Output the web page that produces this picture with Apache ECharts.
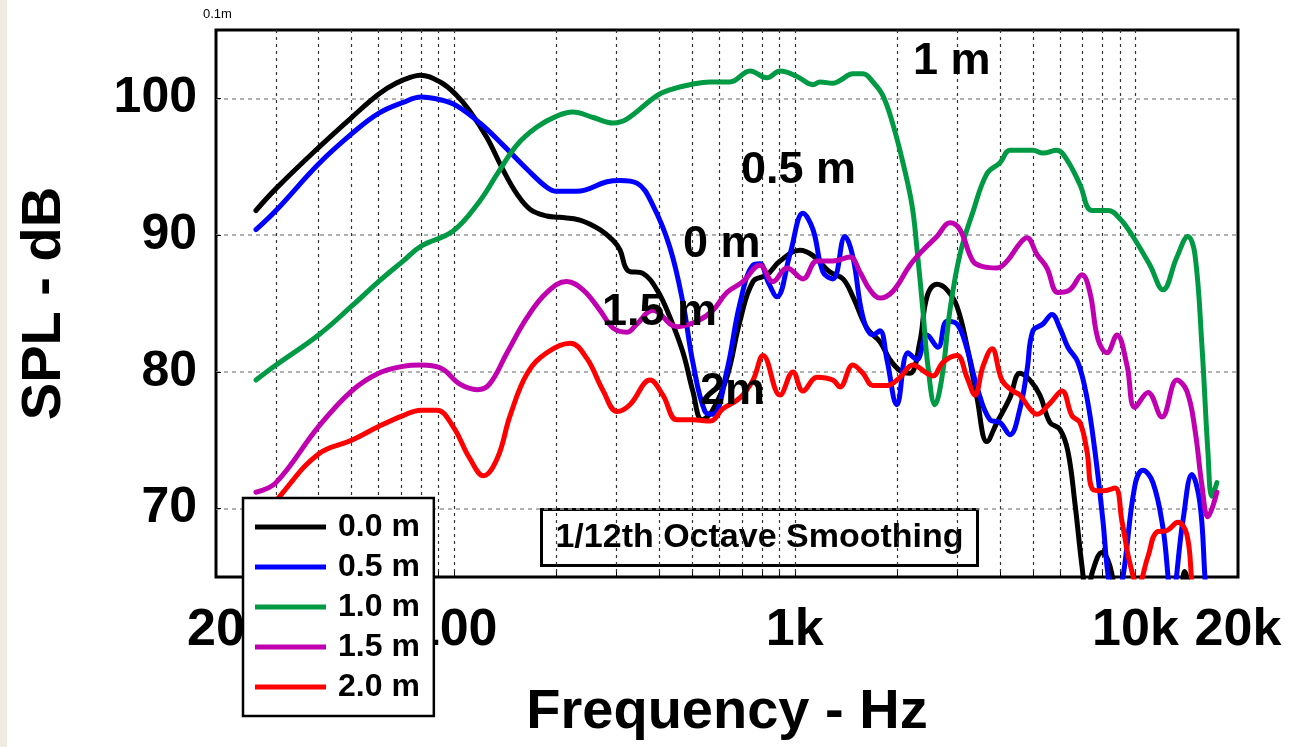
<!DOCTYPE html>
<html>
<head>
<meta charset="utf-8">
<title>SPL vs Frequency</title>
<script src="https://cdn.jsdelivr.net/npm/echarts@6/dist/echarts.min.js"></script>
<style>
  html, body { margin: 0; padding: 0; background: #fff; }
  #chart { width: 1292px; height: 747px; }
</style>
</head>
<body>
<div id="chart"></div>
<script>
  const FONT = '"Liberation Sans", Arial, sans-serif'

  // axis ticks / labels
  const xTickValues = [20, 100, 1000, 10000, 20000]
  const xTickLabels = ['20', '100', '1k', '10k', '20k']
  const gridFreqs = [30, 40, 50, 60, 70, 80, 90, 100, 200, 300, 400, 500, 600, 700, 800, 900,
    1000, 2000, 3000, 4000, 5000, 6000, 7000, 8000, 9000, 10000]
  const yTickValues = [70, 80, 90, 100]

  // series: distance from the baffle
  const seriesNames = ['0.0 m', '0.5 m', '1.0 m', '1.5 m', '2.0 m']
  const seriesColors = ['#000000', '#0000ff', '#009a44', '#c000b0', '#ff0000']

  // 0.0 m
  const freq00 = [26.2, 30, 40, 50, 60, 67.5, 75.7, 79.4, 91, 101, 111, 125, 139, 153, 167, 187, 204, 234, 268, 293,
    307, 324, 358, 394, 430, 470, 502, 534, 571, 632, 690, 754, 829, 905, 1035, 1131, 1268, 1385, 1481, 1628,
    1778, 1902, 2035, 2178, 2329, 2444, 2614, 2797, 2992, 3202, 3426, 3665, 3922, 4280, 4580, 4902, 5242, 5610, 6002, 6334,
    6642, 6966, 7200, 7502, 7972, 8416, 8824, 9500, 13000, 13970, 14700]
  const spl00 = [91.8, 93.4, 96.4, 98.6, 100.3, 101.1, 101.6, 101.7, 101.2, 100.3, 99.1, 97.1, 94.8, 93.0, 91.9, 91.4, 91.3, 91.1, 90.4, 89.6,
    88.9, 87.4, 87.2, 86.0, 84.0, 81.4, 78.6, 76.5, 77.1, 79.6, 83.7, 86.6, 87.1, 88.1, 88.9, 88.5, 87.3, 86.8, 85.5, 83.2,
    82.2, 80.9, 80.1, 79.9, 82.2, 85.5, 86.4, 86.0, 84.8, 81.9, 78.1, 74.9, 76.3, 78.1, 79.9, 79.4, 78.3, 76.3, 75.8, 74.2,
    70.4, 65.8, 63.5, 65.5, 66.8, 65.8, 63.0, 60.0, 62.0, 65.4, 62.0]

  // 0.5 m
  const freq05 = [26.2, 30, 40, 50, 60, 70.8, 80, 91, 101, 119, 139, 164, 187, 200, 229, 281, 307, 344, 383, 430,
    470, 502, 545, 575, 632, 690, 754, 790, 834, 886, 968, 1057, 1131, 1210, 1294, 1404, 1481, 1585, 1696, 1778,
    1864, 1994, 2149, 2282, 2444, 2632, 2797, 2992, 3202, 3426, 3740, 4002, 4280, 4580, 4804, 5000, 5350, 5686, 6002, 6334,
    6778, 7206, 7604, 8028, 8304, 8700, 9190, 9964, 10520, 11256, 12042, 12794, 13782, 14646, 15462, 15994, 16300]
  const spl05 = [90.4, 91.8, 95.2, 97.4, 98.9, 99.7, 100.1, 99.9, 99.5, 98.2, 96.6, 94.8, 93.5, 93.2, 93.2, 93.9, 94.0, 93.8, 92.2, 89.1,
    85.0, 80.7, 77.1, 76.9, 80.1, 85.0, 87.8, 87.9, 86.6, 85.5, 88.6, 91.6, 90.4, 87.3, 86.8, 89.9, 88.4, 84.0, 82.7, 83.0,
    80.9, 77.6, 81.4, 80.9, 82.7, 81.8, 83.7, 83.5, 81.7, 78.9, 76.5, 76.3, 75.4, 77.3, 80.1, 83.0, 83.5, 84.2, 83.2, 81.8,
    80.7, 78.1, 74.2, 69.1, 65.2, 62.5, 65.0, 71.7, 72.8, 71.9, 68.6, 63.5, 69.1, 72.5, 70.4, 65.0, 62.0]

  // 1.0 m
  const freq10 = [26.2, 30, 40, 50, 60, 70.8, 80, 99.3, 119, 134, 153, 175, 200, 223, 256, 293, 322, 394, 439, 492,
    564, 645, 739, 829, 905, 1015, 1131, 1185, 1294, 1357, 1481, 1585, 1696, 1814, 1941, 2077, 2208, 2282, 2377, 2460,
    2579, 2704, 2854, 3054, 3334, 3665, 4002, 4280, 4580, 5000, 5350, 5882, 6294, 6872, 7452, 8304, 9006, 9830, 11030, 12042,
    13234, 14256, 14946, 15674, 16316, 16764, 17342]
  const spl10 = [79.4, 80.5, 82.7, 84.8, 86.6, 88.1, 89.2, 90.3, 92.5, 94.5, 96.6, 97.9, 98.7, 99.0, 98.6, 98.2, 98.5, 100.2, 100.7, 101.0,
    101.2, 101.2, 102.0, 101.5, 102.0, 101.6, 101.0, 101.2, 101.1, 101.3, 101.8, 101.8, 101.2, 100.2, 98.1, 95.3, 92.2, 89.1, 84.5, 80.4,
    77.6, 79.6, 84.5, 88.6, 91.7, 94.5, 95.3, 96.2, 96.2, 96.2, 96.0, 96.2, 95.5, 93.7, 91.8, 91.8, 91.2, 89.9, 87.8, 86.0,
    88.4, 89.9, 88.6, 81.9, 74.2, 70.9, 71.9]

  // 1.5 m
  const freq15 = [26.2, 30, 40, 50, 60, 70.8, 80, 91, 104, 117, 127, 143, 164, 187, 214, 239, 268, 293, 322, 344,
    383, 451, 516, 575, 632, 704, 790, 863, 949, 1057, 1162, 1294, 1452, 1553, 1662, 1778, 1941, 2178, 2377, 2614,
    2854, 3054, 3334, 3568, 3922, 4195, 4580, 4804, 5136, 5496, 5922, 6422, 6966, 7352, 7760, 8248, 8824, 9440, 9964, 10882,
    11962, 13234, 14158, 14946, 15674, 16316, 17342]
  const spl15 = [71.2, 71.9, 76.0, 78.6, 79.9, 80.4, 80.5, 80.3, 79.1, 78.7, 79.1, 81.4, 84.0, 85.8, 86.6, 86.0, 84.5, 83.2, 82.9, 83.5,
    84.5, 83.3, 83.7, 84.5, 85.8, 86.6, 87.8, 86.6, 87.6, 86.8, 88.1, 88.1, 88.4, 87.3, 86.0, 85.4, 85.9, 87.8, 88.9, 89.9,
    90.9, 90.4, 88.1, 87.7, 87.6, 88.1, 89.4, 89.8, 88.6, 87.6, 85.8, 86.0, 87.1, 85.8, 82.4, 81.4, 82.7, 80.5, 77.4, 78.5,
    76.7, 79.4, 78.6, 75.8, 71.7, 69.4, 71.2]

  // 2.0 m
  const freq20 = [26.2, 31.5, 40, 50, 60, 70.8, 80, 89, 99.3, 111, 122, 134, 146, 164, 187, 219, 245, 274, 301, 328,
    376, 410, 451, 502, 564, 615, 690, 754, 807, 905, 988, 1057, 1162, 1294, 1357, 1481, 1585, 1696, 1864, 2035,
    2222, 2444, 2544, 2723, 2992, 3202, 3380, 3568, 3792, 4056, 4368, 4580, 4902, 5136, 5610, 6084, 6510, 6872, 7206, 7502,
    8028, 8706, 9126, 9634, 10168, 10882, 11564, 12372, 13324, 14158, 14646, 15000]
  const spl20 = [68.5, 71.2, 74.0, 75.0, 76.0, 76.8, 77.2, 77.2, 76.0, 73.7, 72.4, 73.7, 76.8, 79.9, 81.4, 82.1, 81.0, 78.6, 77.1, 77.6,
    79.4, 78.3, 76.5, 76.5, 76.4, 77.3, 78.1, 79.4, 81.2, 78.3, 80.0, 78.6, 79.6, 79.4, 78.9, 80.5, 79.9, 79.0, 79.0, 79.6,
    80.5, 79.9, 79.7, 80.7, 81.2, 79.6, 78.3, 80.4, 81.7, 79.4, 78.6, 78.3, 77.3, 76.9, 77.7, 78.6, 76.8, 76.3, 74.2, 71.4,
    71.3, 71.5, 69.1, 66.0, 64.4, 66.5, 68.3, 68.4, 69.0, 68.1, 64.5, 62.0]

  const freqs = [freq00, freq05, freq10, freq15, freq20]
  const spls = [spl00, spl05, spl10, spl15, spl20]

  // 在图上的文字标注
  const noteTexts = ['1 m', '0.5 m', '0 m', '1.5 m', '2m']
  const notePos = [[913, 62], [741, 171], [683, 245], [602, 313], [700, 392]]

  function zip(xs, ys) {
    return xs.map((x, i) => [x, ys[i]])
  }

  function xLabel(v) {
    // 取最近的刻度文字（log 轴的值可能有舍入误差）
    let best = 0
    xTickValues.forEach((t, i) => {
      if (Math.abs(Math.log(v / t)) < Math.abs(Math.log(v / xTickValues[best]))) best = i
    })
    return xTickLabels[best]
  }

  const chart = echarts.init(document.getElementById('chart'))

  const boldText = (size) => ({ fontFamily: FONT, fontWeight: 'bold', fontSize: size, color: '#000' })

  chart.setOption({
    animation: false,
    backgroundColor: '#fff',
    grid: {
      left: 216, right: 54, top: 30, bottom: 170,
      show: true, borderColor: '#000', borderWidth: 3, backgroundColor: '#fff'
    },
    legend: {
      data: seriesNames,
      orient: 'vertical',
      left: 243, top: 498,
      padding: [13, 14, 13, 12],
      itemWidth: 71, itemHeight: 5, itemGap: 8,
      icon: 'rect',
      backgroundColor: '#fff', borderColor: '#000', borderWidth: 2.5,
      selectedMode: false,
      textStyle: Object.assign(boldText(32), { lineHeight: 32, padding: [0, 0, 0, 7] })
    },
    xAxis: {
      type: 'log', logBase: 10, min: 20, max: 20000,
      axisLine: { show: false },
      axisTick: { show: true, inside: true, length: 5, customValues: gridFreqs, lineStyle: { color: '#000' } },
      axisLabel: Object.assign(boldText(52), { customValues: xTickValues, formatter: xLabel, margin: 28 }),
      splitLine: { show: true, lineStyle: { color: '#333', type: [3, 4], width: 1.2 } },
      name: 'Frequency - Hz', nameLocation: 'middle', nameGap: 108,
      nameTextStyle: boldText(56)
    },
    yAxis: {
      type: 'value', min: 65, max: 105,
      axisLine: { show: false },
      axisTick: { show: true, inside: true, length: 5, customValues: yTickValues, lineStyle: { color: '#000' } },
      axisLabel: Object.assign(boldText(50), { customValues: yTickValues, margin: 19 }),
      splitLine: { show: true, lineStyle: { color: '#999', type: [4, 4], width: 1.5 } },
      name: 'SPL - dB', nameLocation: 'middle', nameRotate: 90, nameGap: 143,
      nameTextStyle: boldText(56)
    },
    graphic: [
      { type: 'rect', left: 0, top: 0, z: -10, shape: { width: 7, height: 747 }, style: { fill: '#efebe3' } },
      { type: 'text', x: 203, y: 14, style: { text: '0.1m', font: '13px ' + FONT, fill: '#000', verticalAlign: 'middle' } },
      ...noteTexts.map((t, i) => ({
        type: 'text', x: notePos[i][0], y: notePos[i][1], z: 50,
        style: { text: t, font: 'bold 45px ' + FONT, fill: '#000', verticalAlign: 'middle' }
      })),
      {
        type: 'group', left: 540, top: 508, z: 60,
        children: [
          { type: 'rect', shape: { x: 0, y: 0, width: 436, height: 56 }, style: { fill: '#fff', stroke: '#000', lineWidth: 3 } },
          { type: 'text', x: 218, y: 28, style: { text: '1/12th Octave Smoothing', font: 'bold 34px ' + FONT, fill: '#000', align: 'center', verticalAlign: 'middle' } }
        ]
      }
    ],
    series: seriesNames.map((name, i) => ({
      name,
      type: 'line',
      data: zip(freqs[i], spls[i]),
      showSymbol: false,
      smooth: 0.4,
      clip: true,
      silent: true,
      itemStyle: { color: seriesColors[i] },
      lineStyle: { color: seriesColors[i], width: 5, cap: 'round', join: 'round' }
    }))
  })
</script>
</body>
</html>
